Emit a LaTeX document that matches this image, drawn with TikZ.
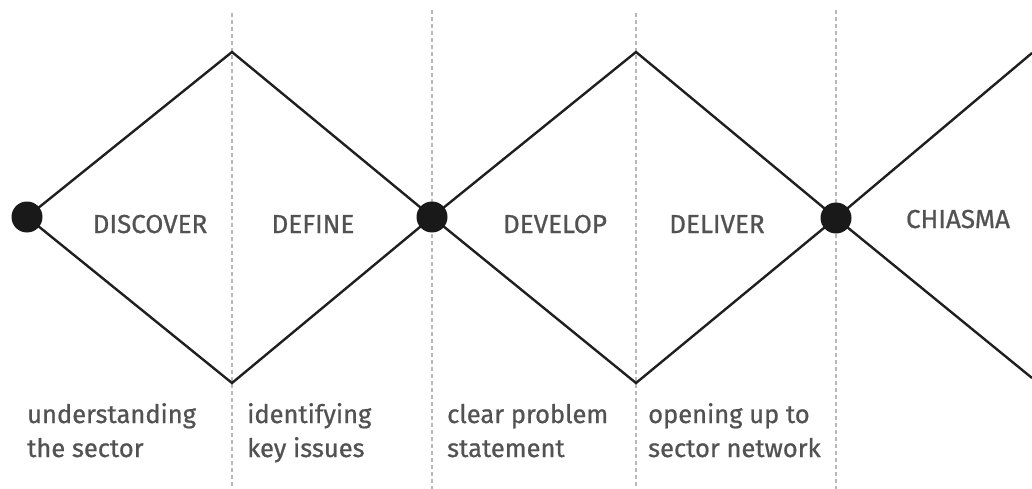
\documentclass[tikz,border=0pt]{standalone}
\usepackage{fontspec}
\setmainfont{Fira Sans}[FakeBold=0.8]
\begin{document}
\begin{tikzpicture}[x=1pt,y=-1pt,
  guide/.style={draw=black!28, line width=1.4pt, dash pattern=on 4pt off 3pt},
  edge/.style={draw=black!88, line width=2.4pt, line join=miter},
  dot/.style={circle, fill=black!90, inner sep=0pt, minimum size=31pt},
  phase/.style={text=black!68, font=\fontsize{26}{28}\selectfont, anchor=base, inner sep=0pt},
  note/.style={text=black!68, font=\fontsize{25.5}{34}\selectfont, anchor=base west, inner sep=0pt, align=left}]
\useasboundingbox (0,0) rectangle (1032,489);
% guides
\coordinate (g1t) at (232,13); \coordinate (g1b) at (232,489);
\coordinate (g2t) at (432,10); \coordinate (g2b) at (432,489);
\coordinate (g3t) at (636,13); \coordinate (g3b) at (636,489);
\coordinate (g4t) at (836,10); \coordinate (g4b) at (836,489);
\draw[guide] (g1t) -- (g1b);
\draw[guide] (g2t) -- (g2b);
\draw[guide] (g3t) -- (g3b);
\draw[guide] (g4t) -- (g4b);
% diamonds
\coordinate (t1) at (232,52); \coordinate (b1) at (232,383);
\coordinate (t2) at (636,52); \coordinate (b2) at (636,383);
\coordinate (r1) at (1032,53); \coordinate (r2) at (1032,378);
\coordinate (p1) at (27,217); \coordinate (p2) at (432,217); \coordinate (p3) at (836,218);
\draw[edge] (p1) -- (t1) -- (p2) -- (b1) -- cycle;
\draw[edge] (p2) -- (t2) -- (p3) -- (b2) -- cycle;
\draw[edge] (r1) -- (p3) -- (r2);
\node[dot] (d1) at (p1) {};
\node[dot] (d2) at (p2) {};
\node[dot] (d3) at (p3) {};
% labels
\node[phase] (l1) at (150,233) {DISCOVER};
\node[phase] (l2) at (313,233) {DEFINE};
\node[phase] (l3) at (555,233) {DEVELOP};
\node[phase] (l4) at (717,233) {DELIVER};
\node[phase] (l5) at (958,228) {CHIASMA};
% notes
\node[note] (n1) at (27,457) {understanding\\the sector};
\node[note] (n2) at (247,457) {identifying\\key issues};
\node[note] (n3) at (447,457) {clear problem\\statement};
\node[note] (n4) at (648,457) {opening up to\\sector network};
\end{tikzpicture}
\end{document}
